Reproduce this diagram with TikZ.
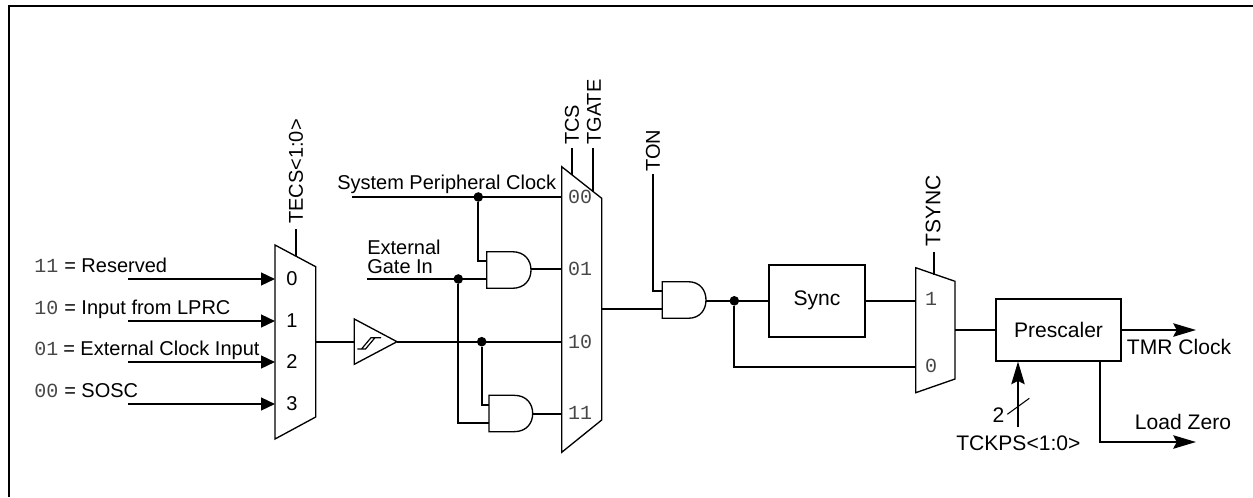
\documentclass[tikz,border=0pt]{standalone}
\usepackage{fontspec}
\setmainfont{Liberation Sans}
\newfontfamily\codefont{Liberation Mono}
\usetikzlibrary{arrows.meta}
\tikzset{
  x=0.75pt, y=-0.75pt,
  wire/.style={line width=1.5pt},
  thin outline/.style={line width=1pt, line join=miter},
  bigtext/.style={font=\fontsize{15.8}{15.8}\selectfont},
  boxed/.style={draw, line width=1.5pt, inner sep=0pt, bigtext},
  lbl/.style={inner sep=0pt, anchor=base west, font=\fontsize{15}{15}\selectfont},
  rlbl/.style={inner sep=0pt, anchor=west, rotate=90, font=\fontsize{15}{15}\selectfont},
  pin/.style={inner sep=0pt, font=\fontsize{15}{15}\selectfont},
  code/.style={inner sep=0pt, text=black!72, font=\fontsize{15}{15}\codefont},
  junction/.style={circle, fill=black, inner sep=0pt, minimum size=7.2pt},
  inarrow/.style={wire, -{Triangle[length=10.5pt,width=9.6pt]}},
  longarrow/.style={wire, -{Stealth[length=17pt,width=10pt,inset=2.5pt]}},
}
% AND gate: #1 name, #2 left x, #3 top y, #4 bottom y, #5 straight part end x, #6 tip x
\newcommand{\andgate}[6]{%
  \coordinate (#1-tl) at (#2,#3);
  \draw[thin outline] (#2,#3) -- (#5,#3) .. controls ({#5+0.7*(#6-#5)},#3) and (#6,{#3+0.25*(#4-#3)}) .. (#6,{0.5*(#3+#4)}) .. controls (#6,{#3+0.75*(#4-#3)}) and ({#5+0.7*(#6-#5)},#4) .. (#5,#4) -- (#2,#4) -- cycle;
}
\begin{document}
\begin{tikzpicture}
\useasboundingbox (0,0) rectangle (1253,497);
\draw[line width=1.5pt] (1253,5.7) -- (8.7,5.7) -- (8.7,497);

% input labels
\node[code,anchor=base west] (c11) at (34,272) {11};
\node[lbl] (t11) at (64,272) {= Reserved};
\node[code,anchor=base west] (c10) at (34,314) {10};
\node[lbl] (t10) at (64,314) {= Input from LPRC};
\node[code,anchor=base west] (c01) at (34,355) {01};
\node[lbl] (t01) at (63,355) {= External Clock Input};
\node[code,anchor=base west] (c00) at (34,397) {00};
\node[lbl] (t00) at (64,397) {= SOSC};

% clock source mux
\coordinate (in0) at (128,279);
\coordinate (in1) at (128,321);
\coordinate (in2) at (128,362);
\coordinate (in3) at (128,404);
\coordinate (m1a) at (275,279);
\coordinate (m1b) at (275,321);
\coordinate (m1c) at (275,362);
\coordinate (m1d) at (275,404);
\coordinate (m1o) at (315.7,341.7);
\coordinate (m1s) at (296,256);
\coordinate (m1st) at (296,229);
\draw[wire] (m1s) -- (m1st);
\draw[inarrow] (in0) -- (m1a);
\draw[inarrow] (in1) -- (m1b);
\draw[inarrow] (in2) -- (m1c);
\draw[inarrow] (in3) -- (m1d);
\draw[thin outline] (275,245) -- (315.7,266.7) -- (315.7,417) -- (275,439) -- cycle;
\node[pin] (p0) at (292,279) {0};
\node[pin] (p1) at (292,321) {1};
\node[pin] (p2) at (292,362) {2};
\node[pin] (p3) at (292,404) {3};
\node[rlbl] (tecs) at (296,224) {TECS<1:0>};

% Schmitt trigger
\coordinate (sti) at (354.3,341.7);
\coordinate (sto) at (397,341.7);
\draw[wire] (m1o) -- (sti);
\draw[thin outline] (354.3,319) -- (sto) -- (354.3,364.3) -- cycle;
\draw[line width=0.9pt] (357.3,349) -- (365.5,349) -- (375,337.7) -- (381,337.7) -- (371,337.7) -- (361.5,349);

% gate mux
\coordinate (m2a) at (561.7,197);
\coordinate (m2b) at (561.7,269);
\coordinate (m2c) at (561.7,341.7);
\coordinate (m2d) at (561.7,414);
\coordinate (m2o) at (601.7,308.7);
\draw[wire] (571.7,175) -- (571.7,148) coordinate (tcsend);
\draw[wire] (593,192) -- (593,148) coordinate (tgend);
\draw[thin outline] (561.7,166.7) -- (601.7,198.3) -- (601.7,420) -- (561.7,452.3) -- cycle;
\node[code] (l00) at (580,197) {00};
\node[code] (l01) at (580,269) {01};
\node[code] (l10) at (580,341.7) {10};
\node[code] (l11) at (580,413) {11};
\node[rlbl] (tcs) at (572,145) {TCS};
\node[rlbl] (tgate) at (594,145) {TGATE};

\node[lbl] (spc) at (337,189) {System Peripheral Clock};
\node[lbl] (eg1) at (367,254.7) {External};
\node[lbl] (eg2) at (367,273) {Gate In};
\coordinate (spcs) at (352,197);
\coordinate (egs) at (367,279);

% AND gates
\andgate{ga}{486.7}{251.7}{288.3}{512}{531}
\andgate{gb}{489}{395.3}{431.7}{514}{532.7}
\andgate{gc}{662.3}{281.7}{318.3}{688}{706}
\coordinate (gaa) at (486.7,261);
\coordinate (gab) at (486.7,279);
\coordinate (gao) at (531,269);
\coordinate (gba) at (489,405);
\coordinate (gbb) at (489,422.7);
\coordinate (gbo) at (532.7,414);
\coordinate (gca) at (662.3,291);
\coordinate (gcb) at (662.3,308.7);
\coordinate (gco) at (706,300.8);

\node[junction] (j1) at (478.3,197) {};
\node[junction] (j2) at (458.3,279) {};
\node[junction] (j3) at (481.7,341.7) {};
\node[junction] (j4) at (734.3,300.8) {};

\draw[wire] (spcs) -- (m2a);
\draw[wire] (j1) |- (gaa);
\draw[wire] (egs) -- (gab);
\draw[wire] (sto) -- (m2c);
\draw[wire] (j3) |- (gba);
\draw[wire] (j2) |- (gbb);
\draw[wire] (gao) -- (m2b);
\draw[wire] (gbo) -- (m2d);
\draw[wire] (m2o) -- (gcb);
\coordinate (tonend) at (652.7,174.3);
\draw[wire] (tonend) |- (gca);
\node[rlbl] (ton) at (653,171.7) {TON};

% sync
\node[boxed, minimum width=72pt, minimum height=53.7pt] (sync) at (817,300.8) {Sync};
\coordinate (m3a) at (915.7,300.8);
\coordinate (m3b) at (915.7,367);
\coordinate (m3o) at (955,330);
\draw[wire] (gco) -- (sync.west |- gco);
\draw[wire] (sync.east) -- (m3a);
\draw[wire] (j4) |- (m3b);
\draw[wire] (933.7,275) -- (933.7,252.3) coordinate (tsend);
\draw[thin outline] (915.7,267.7) -- (955,281.3) -- (955,379) -- (915.7,392.7) -- cycle;
\node[code] (s1) at (931,299) {1};
\node[code] (s0) at (931,365.7) {0};
\node[rlbl, bigtext] (tsync) at (933,246.7) {TSYNC};

% prescaler
\node[boxed, minimum width=94.2pt, minimum height=46.3pt] (pre) at (1058.5,330) {Prescaler};
\draw[wire] (m3o) -- (pre.west);
\coordinate (tmrend) at (1196,330);
\coordinate (lzend) at (1196,442);
\coordinate (lzstart) at (1100.3,360.7);
\coordinate (tckstart) at (1018,427.3);
\coordinate (tckend) at (1018,361.5);
\draw[longarrow] (pre.east) -- (tmrend);
\draw[longarrow] (lzstart) |- (lzend);
\draw[longarrow] (tckstart) -- (tckend);
\draw[line width=0.8pt] (1007.3,414.3) coordinate (sl1) -- (1029.3,398.3) coordinate (sl2);
\node[lbl, bigtext] (tmr) at (1126.7,354.7) {TMR Clock};
\node[lbl, bigtext] (lz) at (1134.7,429.7) {Load Zero};
\node[lbl, bigtext] (two) at (992.3,422.7) {2};
\node[lbl, bigtext] (tck) at (956,450.7) {TCKPS<1:0>};
\end{tikzpicture}
\end{document}
